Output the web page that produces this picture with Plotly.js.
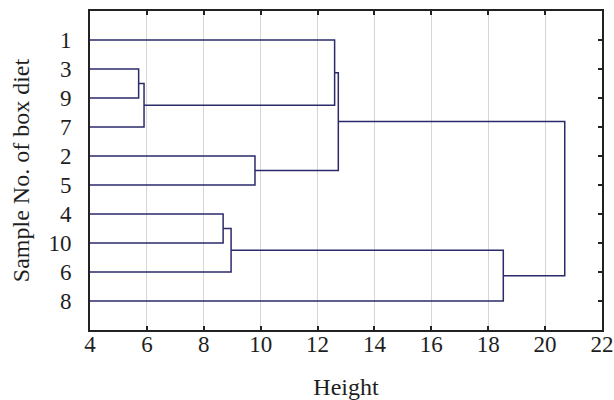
<!DOCTYPE html>
<html>
<head>
<meta charset="utf-8">
<script src="https://cdn.plot.ly/plotly-3.0.1.min.js"></script>
<style>html,body{margin:0;padding:0;background:#fff;}#chart{width:614px;height:400px;}</style>
</head>
<body>
<div id="chart"></div>
<script>
// Leaves in display order (top to bottom)
const leafLabels = ["1", "3", "9", "7", "2", "5", "4", "10", "6", "8"];
// Merges: indices 0..9 are leaves, 10+ are clusters formed in this order
const mergeLeft   = [1, 10, 6, 12, 4, 0, 15, 13, 16];
const mergeRight  = [2, 3, 7, 8, 5, 11, 14, 9, 17];
const mergeHeight = [5.71, 5.90, 8.68, 8.96, 9.80, 12.60, 12.73, 18.53, 20.69];
const xTickVals = [4, 6, 8, 10, 12, 14, 16, 18, 20, 22];

const nLeaves = leafLabels.length;
const nodeY = [], nodeX = [];
for (let i = 0; i < nLeaves; i++) { nodeY.push(i); nodeX.push(0); }
const xs = [], ys = [];
for (let k = 0; k < mergeHeight.length; k++) {
  const a = mergeLeft[k], b = mergeRight[k], h = mergeHeight[k];
  xs.push(nodeX[a], h, h, nodeX[b], null);
  ys.push(nodeY[a], nodeY[a], nodeY[b], nodeY[b], null);
  nodeY.push((nodeY[a] + nodeY[b]) / 2);
  nodeX.push(h);
}

const fam = "Liberation Serif";
const txt = "#1e1e1e";
const lineColor = "#2b2b6b";

const data = [
  {x: xs, y: ys, type: "scatter", mode: "lines", line: {color: lineColor, width: 1.5}, hoverinfo: "skip", showlegend: false},
  {x: [4], y: [0], xaxis: "x2", yaxis: "y2", type: "scatter", mode: "markers", marker: {opacity: 0}, hoverinfo: "skip", showlegend: false}
];

const layout = {
  width: 614, height: 400,
  margin: {l: 90, r: 12, t: 11, b: 70},
  paper_bgcolor: "#fff", plot_bgcolor: "#fff",
  font: {family: fam, size: 23, color: txt},
  xaxis: {
    range: [4, 22], tickvals: xTickVals, ticktext: xTickVals.map(String),
    showgrid: true, gridcolor: "#d6d6d6", gridwidth: 1,
    zeroline: false, showline: true, linecolor: "#222", linewidth: 2, mirror: true,
    ticks: "inside", ticklen: 4, tickwidth: 2, tickcolor: "#222",
    ticklabelstandoff: -8,
    tickfont: {family: fam, size: 23, color: txt},
    title: {text: "Height", font: {family: fam, size: 24, color: txt}, standoff: 30}
  },
  xaxis2: {
    overlaying: "x", side: "top", range: [4, 22], tickvals: xTickVals,
    showticklabels: false, showgrid: false, zeroline: false,
    ticks: "inside", ticklen: 4, tickwidth: 2, tickcolor: "#222"
  },
  yaxis: {
    range: [10, -1], tickvals: leafLabels.map((_, i) => i), ticktext: leafLabels,
    showgrid: false, zeroline: false, showline: true, linecolor: "#222", linewidth: 2, mirror: true,
    ticks: "", ticklabelstandoff: 12,
    tickfont: {family: fam, size: 23, color: txt},
    title: {text: "Sample No. of box diet", font: {family: fam, size: 24, color: txt}, standoff: 12}
  },
  yaxis2: {
    overlaying: "y", side: "right", range: [10, -1], tickvals: leafLabels.map((_, i) => i),
    showticklabels: false, showgrid: false, zeroline: false,
    ticks: "inside", ticklen: 4, tickwidth: 2, tickcolor: "#222"
  }
};

Plotly.newPlot("chart", data, layout, {displayModeBar: false, staticPlot: true});
</script>
</body>
</html>
